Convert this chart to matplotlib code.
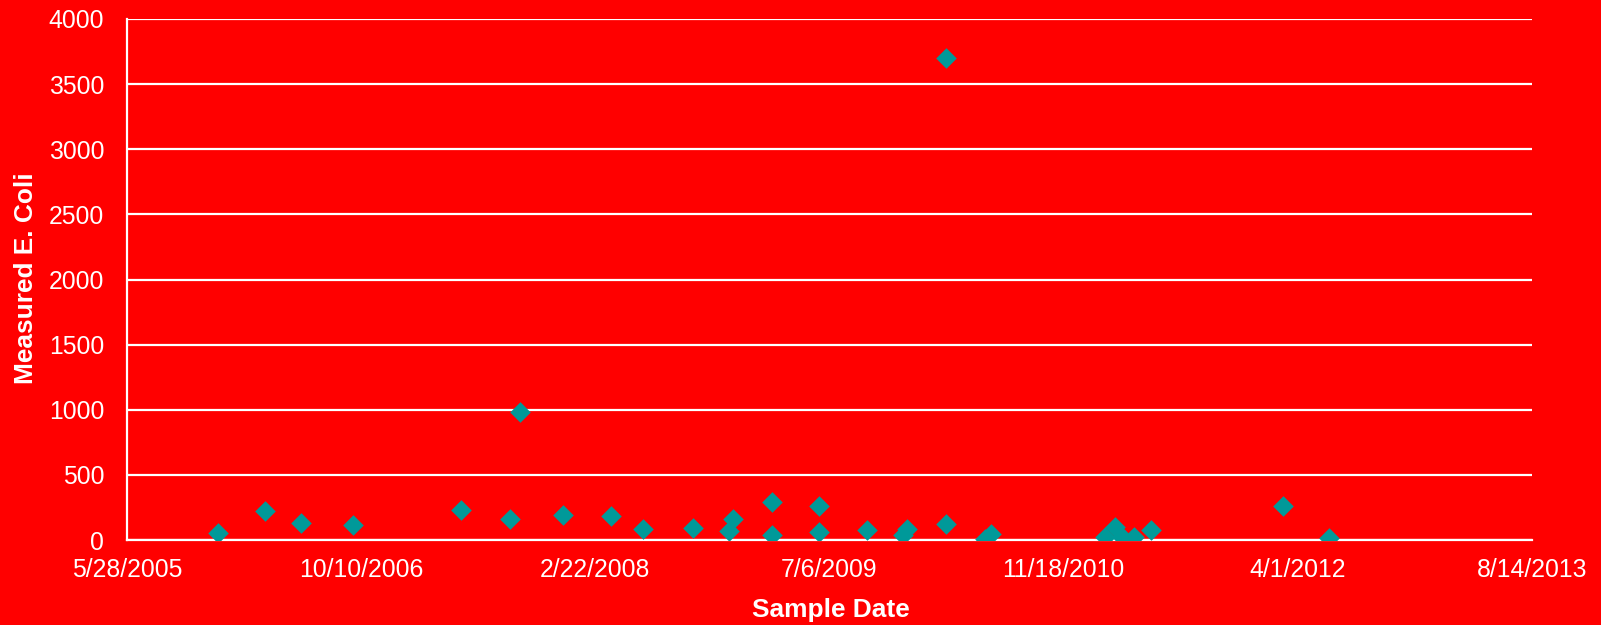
import matplotlib
matplotlib.use("Agg")
import matplotlib.pyplot as plt
import pandas as pd

# datas das amostras e E. coli medido
sample_dates = ["2005-12-09", "2006-03-18", "2006-06-04", "2006-09-22", "2007-05-11",
                "2007-08-23", "2007-09-14", "2007-12-14", "2008-03-27", "2008-06-03",
                "2008-09-18", "2008-12-04", "2008-12-11", "2009-03-06", "2009-03-06",
                "2009-06-13", "2009-06-13", "2009-09-25", "2009-12-11", "2009-12-18",
                "2010-03-11", "2010-03-11", "2010-06-03", "2010-06-16", "2011-02-14",
                "2011-03-07", "2011-03-22", "2011-04-17", "2011-05-24", "2012-03-01",
                "2012-06-06"]
ecoli = [56, 223, 131, 113, 233,
         161, 983, 192, 182, 87,
         90, 71, 159, 294, 36,
         263, 59, 74, 38, 84,
         3700, 123, 10, 45, 25,
         100, 25, 25, 77, 261,
         15]

# marcas do eixo x (a cada 500 dias)
x_start = pd.Timestamp("2005-05-28")
x_ticks = [x_start + pd.Timedelta(days=500 * i) for i in range(7)]
y_ticks = list(range(0, 4001, 500))

red = "#ff0000"
teal = "#009999"

plt.rcParams["font.family"] = ["Liberation Sans", "DejaVu Sans"]

fig = plt.figure(figsize=(16.01, 6.25), dpi=100, facecolor=red)
ax = fig.add_axes([0.0793, 0.136, 0.8776, 0.8336])
ax.set_facecolor(red)

ax.scatter(pd.to_datetime(sample_dates), ecoli, marker="D", s=110, color=teal,
           linewidths=0, zorder=3)

ax.set_xlim(x_ticks[0], x_ticks[-1])
ax.set_ylim(0, 4000)
ax.set_xticks(x_ticks)
ax.set_xticklabels([f"{d.month}/{d.day}/{d.year}" for d in x_ticks])
ax.set_yticks(y_ticks)

ax.grid(True, axis="y", color="white", lw=1.6)
ax.set_axisbelow(True)
for side in ["top", "right"]:
    ax.spines[side].set_visible(False)
for side in ["left", "bottom"]:
    ax.spines[side].set_color("white")
    ax.spines[side].set_linewidth(1.6)

ax.tick_params(length=0, colors="white", labelsize=17.8)
ax.tick_params(axis="y", pad=16.5)
ax.tick_params(axis="x", pad=13)

# rótulos dos eixos
fig.text(830.5 / 1601, 1 - 617 / 625, "Sample Date", color="white", fontsize=18.9,
         fontweight="bold", ha="center", va="baseline")
fig.text(33.3 / 1601, 1 - 278.5 / 625, "Measured E. Coli", color="white", fontsize=18.9,
         fontweight="bold", ha="center", va="baseline", rotation=90, rotation_mode="anchor")

fig.savefig("out.png", dpi=100, facecolor=red)
